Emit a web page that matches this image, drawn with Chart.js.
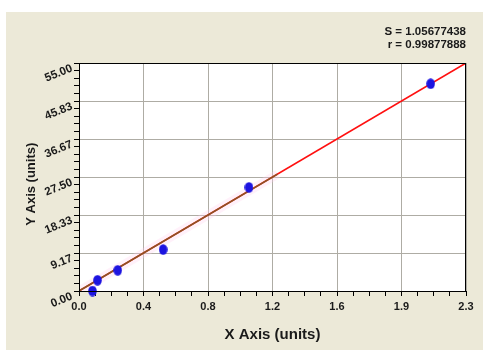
<!DOCTYPE html>
<html>
<head>
<meta charset="utf-8">
<script src="https://cdn.jsdelivr.net/npm/chart.js@4.4.1/dist/chart.umd.min.js"></script>
<style>
  html, body { margin: 0; padding: 0; background: #fff; }
  #wrap { width: 494px; height: 352px; }
</style>
</head>
<body>
<div id="wrap"><canvas id="chart" width="494" height="352"></canvas></div>
<script>
const pointX = [0.08, 0.11, 0.23, 0.50, 1.01, 2.09];
const pointY = [0.0, 2.6, 5.0, 10.0, 25.0, 50.0];

// Fitted line, full range (red) and data range (brown)
const fitX = [0, 2.3];
const fitY = [0, 55];
const rangeX = [0, 1.18];
const rangeY = [0, 28.2];

// Axis tick labels
const xTickLabels = ['0.0', '0.4', '0.8', '1.2', '1.6', '1.9', '2.3'];
const yTickLabels = ['0.00', '9.17', '18.33', '27.50', '36.67', '45.83', '55.00'];

const statLines = ['S = 1.05677438', 'r = 0.99877888'];

const X_MAX = 2.3, Y_MAX = 55;
const X_SUB = 4, Y_SUB = 5;   // minor subdivisions per major step
const gridGray = '#aeaca4';
const textColor = '#1a1a1a';
const fontFamily = "'Liberation Sans', Arial, sans-serif";

function xy(xs, ys) {
  return xs.map((x, i) => ({ x: x, y: ys[i] }));
}

// build major + minor tick values for an axis
function tickValues(max, majors, sub) {
  const n = (majors - 1) * sub;
  const out = [];
  for (let i = 0; i <= n; i++) out.push({ value: max * i / n });
  return out;
}

// slightly tall blue dot
const dot = document.createElement('canvas');
dot.width = 9;
dot.height = 11;
const dctx = dot.getContext('2d');
dctx.fillStyle = '#1c14e0';
dctx.beginPath();
dctx.ellipse(4.5, 5.5, 4.3, 5.2, 0, 0, Math.PI * 2);
dctx.fill();

const framePlugin = {
  id: 'frame',
  beforeDraw(chart) {
    const c = chart.ctx;
    const a = chart.chartArea;
    c.save();
    c.fillStyle = '#ffffff';
    c.fillRect(0, 0, chart.width, chart.height);
    c.fillStyle = '#ece9d8';
    c.fillRect(6, 12, 477, 338);
    c.fillStyle = '#ffffff';
    c.fillRect(a.left, a.top, a.right - a.left, a.bottom - a.top);
    c.restore();
  },
  afterDraw(chart) {
    const c = chart.ctx;
    const a = chart.chartArea;
    c.save();
    c.strokeStyle = '#000';
    c.lineWidth = 1;
    c.strokeRect(a.left + 0.5, a.top + 0.5, a.right - a.left - 1, a.bottom - a.top);
    c.fillStyle = textColor;
    c.font = 'bold 11.5px ' + fontFamily;
    c.textAlign = 'right';
    c.textBaseline = 'middle';
    statLines.forEach((line, i) => c.fillText(line, a.right, 32 + i * 13));
    c.restore();
  }
};

new Chart(document.getElementById('chart'), {
  type: 'scatter',
  data: {
    datasets: [
      {
        label: 'Standards',
        data: xy(pointX, pointY),
        pointStyle: dot,
        clip: false
      },
      {
        label: 'Fit (data range)',
        data: xy(rangeX, rangeY),
        showLine: true,
        borderColor: '#8a5526',
        borderWidth: 1.6,
        pointRadius: 0
      },
      {
        label: 'Fit',
        data: xy(fitX, fitY),
        showLine: true,
        borderColor: '#ff1010',
        borderWidth: 1.6,
        pointRadius: 0
      },
      {
        label: 'Band',
        data: xy(rangeX, rangeY),
        showLine: true,
        borderColor: 'rgba(255, 210, 238, 0.3)',
        borderWidth: 9,
        pointRadius: 0
      }
    ]
  },
  options: {
    responsive: false,
    animation: false,
    devicePixelRatio: 1,
    layout: { padding: { top: 63, right: 28, left: 0, bottom: 0 } },
    plugins: {
      legend: { display: false },
      tooltip: { enabled: false }
    },
    scales: {
      x: {
        type: 'linear',
        min: 0,
        max: X_MAX,
        afterBuildTicks: s => { s.ticks = tickValues(X_MAX, xTickLabels.length, X_SUB); },
        afterFit: s => { s.height = 61; },
        grid: {
          color: ctx => (ctx.index % X_SUB === 0 ? gridGray : 'rgba(0,0,0,0)'),
          tickColor: '#000',
          tickLength: 5
        },
        border: { display: true, color: '#000', width: 1 },
        ticks: {
          autoSkip: false,
          maxRotation: 0,
          padding: 4,
          color: textColor,
          font: { family: fontFamily, size: 11, weight: 'bold' },
          callback: (v, i) => (i % X_SUB === 0 ? xTickLabels[i / X_SUB] : '')
        },
        title: {
          display: true,
          text: 'X Axis (units)',
          color: textColor,
          font: { family: fontFamily, size: 15, weight: 'bold' },
          padding: { top: 0, bottom: 8 }
        }
      },
      y: {
        type: 'linear',
        min: 0,
        max: Y_MAX,
        afterBuildTicks: s => { s.ticks = tickValues(Y_MAX, yTickLabels.length, Y_SUB); },
        afterFit: s => { s.width = 79; },
        grid: {
          color: ctx => (ctx.index % Y_SUB === 0 ? gridGray : 'rgba(0,0,0,0)'),
          tickColor: '#000',
          tickLength: 5
        },
        border: { display: true, color: '#000', width: 1 },
        ticks: {
          autoSkip: false,
          minRotation: 22,
          maxRotation: 22,
          padding: 2,
          labelOffset: 5,
          color: textColor,
          font: { family: fontFamily, size: 11.5, weight: 'bold' },
          callback: (v, i) => (i % Y_SUB === 0 ? yTickLabels[i / Y_SUB] : '')
        },
        title: {
          display: true,
          text: 'Y Axis (units)    ',
          color: textColor,
          font: { family: fontFamily, size: 13, weight: 'bold' },
          padding: { top: 24, bottom: 0 }
        }
      }
    }
  },
  plugins: [framePlugin]
});
</script>
</body>
</html>
